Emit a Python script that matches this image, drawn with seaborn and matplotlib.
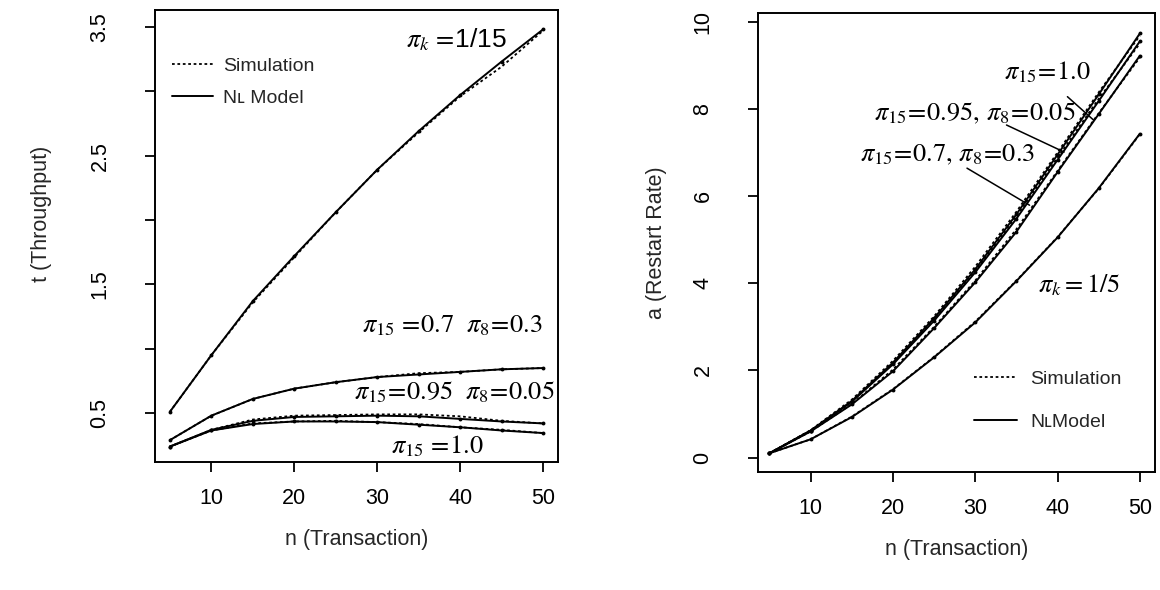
import numpy as np
import pandas as pd
import seaborn as sns
import matplotlib.pyplot as plt
from matplotlib.lines import Line2D

# n (Transaction)
n = [5, 10, 15, 20, 25, 30, 35, 40, 45, 50]

# 左图: t (Throughput)
tp_k15_model = [0.51, 0.95, 1.37, 1.72, 2.06, 2.39, 2.69, 2.97, 3.23, 3.48]
tp_k15_sim = [0.51, 0.95, 1.36, 1.71, 2.06, 2.39, 2.68, 2.96, 3.19, 3.47]
tp_07_model = [0.29, 0.48, 0.61, 0.69, 0.74, 0.78, 0.80, 0.82, 0.84, 0.85]
tp_07_sim = [0.29, 0.48, 0.61, 0.69, 0.74, 0.78, 0.81, 0.82, 0.84, 0.85]
tp_095_model = [0.24, 0.37, 0.44, 0.47, 0.475, 0.48, 0.475, 0.455, 0.435, 0.42]
tp_095_sim = [0.24, 0.37, 0.45, 0.48, 0.485, 0.49, 0.49, 0.475, 0.44, 0.42]
tp_10_model = [0.24, 0.365, 0.415, 0.435, 0.435, 0.43, 0.41, 0.39, 0.365, 0.345]
tp_10_sim = [0.24, 0.365, 0.42, 0.435, 0.44, 0.43, 0.415, 0.39, 0.37, 0.345]

# 右图: a (Restart Rate)
rr_k5_model = [0.10, 0.42, 0.93, 1.56, 2.30, 3.10, 4.05, 5.05, 6.18, 7.43]
rr_k5_sim = [0.10, 0.42, 0.94, 1.57, 2.31, 3.12, 4.06, 5.06, 6.17, 7.42]
rr_10_model = [0.10, 0.62, 1.30, 2.18, 3.20, 4.32, 5.58, 6.95, 8.33, 9.73]
rr_10_sim = [0.10, 0.63, 1.33, 2.22, 3.24, 4.38, 5.64, 7.00, 8.38, 9.68]
rr_095_model = [0.10, 0.62, 1.28, 2.14, 3.14, 4.25, 5.48, 6.83, 8.18, 9.55]
rr_095_sim = [0.10, 0.62, 1.29, 2.16, 3.17, 4.29, 5.54, 6.88, 8.23, 9.50]
rr_07_model = [0.10, 0.60, 1.22, 1.98, 2.97, 4.02, 5.18, 6.55, 7.88, 9.22]
rr_07_sim = [0.10, 0.60, 1.23, 2.02, 3.00, 4.06, 5.24, 6.58, 7.90, 9.18]

sns.set_theme(style="ticks")
plt.rcParams['font.family'] = ['Liberation Sans', 'DejaVu Sans']
plt.rcParams['mathtext.fontset'] = 'stix'

fig = plt.figure(figsize=(11.6, 5.9), dpi=100)
ax1 = fig.add_axes([0.1336, 0.2169, 0.3474, 0.766])
ax2 = fig.add_axes([0.6534, 0.2000, 0.3420, 0.778])


def draw(ax, model, sim):
    sns.lineplot(x=n, y=model, ax=ax, color='black', lw=1.4, marker='o', markersize=2.8,
                 markeredgewidth=0, estimator=None)
    sns.lineplot(x=n, y=sim, ax=ax, color='black', lw=1.3, linestyle=(0, (1.5, 1.5)),
                 estimator=None)


for m, s in [(tp_k15_model, tp_k15_sim), (tp_07_model, tp_07_sim),
             (tp_095_model, tp_095_sim), (tp_10_model, tp_10_sim)]:
    draw(ax1, m, s)
for m, s in [(rr_k5_model, rr_k5_sim), (rr_10_model, rr_10_sim),
             (rr_095_model, rr_095_sim), (rr_07_model, rr_07_sim)]:
    draw(ax2, m, s)

fs = 15.5
for ax in (ax1, ax2):
    for sp in ax.spines.values():
        sp.set_visible(True)
        sp.set_linewidth(1.4)
        sp.set_color('black')
    ax.set_xticks([10, 20, 30, 40, 50])
    ax.tick_params(direction='out', length=7, width=1.3, colors='black', labelsize=fs)
    ax.tick_params(axis='x', pad=12)
    ax.tick_params(axis='y', labelrotation=90, pad=25)
    ax.set_xlabel('n (Transaction)', fontsize=fs, labelpad=14)

ax1.set_xlim(3.2, 51.8)
ax1.set_ylim(0.12, 3.63)
ax1.set_yticks([0.5, 1.0, 1.5, 2.0, 2.5, 3.0, 3.5])
ax1.set_yticklabels(['0.5', '', '1.5', '', '2.5', '', '3.5'], va='center')
ax1.set_ylabel('t (Throughput)', fontsize=fs, labelpad=28)
ax1.yaxis.set_label_coords(-0.255, 0.55)

ax2.set_xlim(3.6, 51.8)
ax2.set_ylim(-0.33, 10.2)
ax2.set_yticks([0, 2, 4, 6, 8, 10])
ax2.set_yticklabels(['0', '2', '4', '6', '8', '10'], va='center')
ax2.set_ylabel('a (Restart Rate)', fontsize=fs, labelpad=18)

# 图例
handles = [Line2D([], [], color='black', lw=1.3, linestyle=(0, (1.5, 1.5))),
           Line2D([], [], color='black', lw=1.4)]
ax1.legend(handles, ['Simulation', 'Nʟ Model'], loc='upper left', bbox_to_anchor=(0.0, 0.935),
           frameon=False, fontsize=14, handlelength=2.1, handletextpad=0.5, labelspacing=0.75)
ax2.legend(handles, ['Simulation', 'NʟModel'], loc='lower left', bbox_to_anchor=(0.5, 0.052),
           frameon=False, fontsize=14, handlelength=2.2, handletextpad=0.7, labelspacing=1.3)

# 左图标注
tk = dict(fontsize=19, color='black', ha='center', va='center')
ax1.text(39.6, 3.40, r'$\pi_k\ \!=\!$1/15', **tk)
ax1.text(39.1, 1.18, r'$\pi_{15}\ \!=\!0.7\ \ \pi_8\!=\!0.3$', **tk)
ax1.text(39.3, 0.66, r'$\pi_{15}\!=\!0.95\ \ \pi_8\!=\!0.05$', **tk)
ax1.text(37.3, 0.24, r'$\pi_{15}\ \!=\!1.0$', **tk)

# 右图标注及引线
ax2.text(38.8, 8.85, r'$\pi_{15}\!=\!1.0$', **tk)
ax2.text(30.0, 7.90, r'$\pi_{15}\!=\!0.95,\,\pi_8\!=\!0.05$', **tk)
ax2.text(26.6, 6.94, r'$\pi_{15}\!=\!0.7,\,\pi_8\!=\!0.3$', **tk)
ax2.text(42.6, 3.95, r'$\pi_k = 1/5$', **tk)
ax2.plot([41.2, 44.4], [8.28, 7.74], color='black', lw=1.1)
ax2.plot([33.8, 40.8], [7.63, 7.01], color='black', lw=1.1)
ax2.plot([29.0, 36.6], [6.64, 5.79], color='black', lw=1.1)

plt.savefig('out.png', dpi=100)
